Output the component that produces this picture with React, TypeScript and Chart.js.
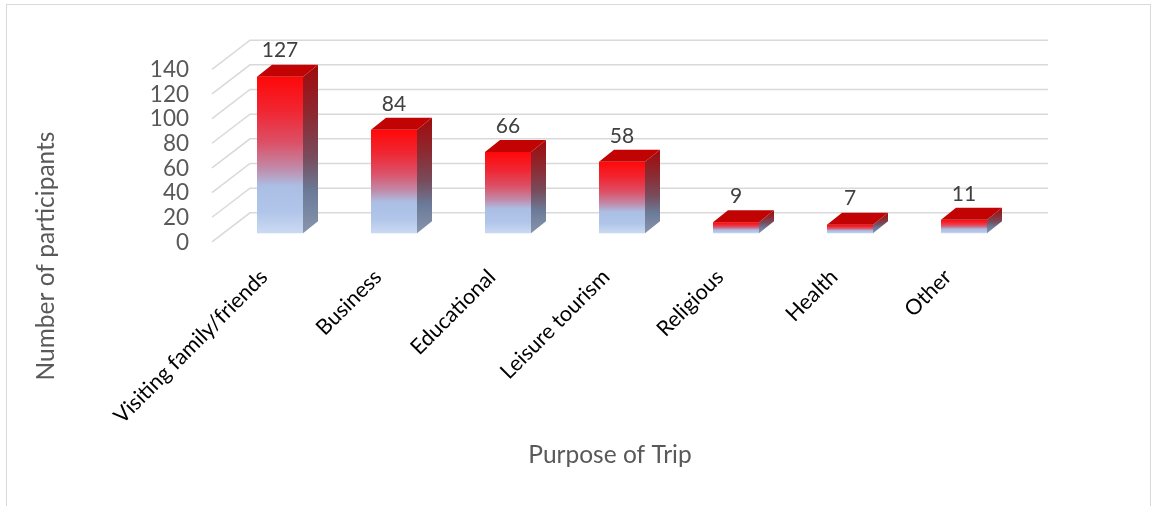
import React, { useEffect, useRef } from 'react';
import { Chart, registerables } from 'chart.js';

Chart.register(...registerables);

const categories = [
  'Visiting family/friends',
  'Business',
  'Educational',
  'Leisure tourism',
  'Religious',
  'Health',
  'Other',
];
const participants = [127, 84, 66, 58, 9, 7, 11];
const yTickValues = [0, 20, 40, 60, 80, 100, 120, 140];
const yTitle = 'Number of participants';
const xTitle = 'Purpose of Trip';

const FONT = 'Lato, "Open Sans", sans-serif';
const DEPTH_X = 15;
const DEPTH_Y = -12;

const frontStops: [number, string][] = [
  [0, '#ff0808'],
  [0.22, '#f02632'],
  [0.42, '#dc5066'],
  [0.58, '#c288a6'],
  [0.7, '#abbfe5'],
  [0.86, '#b0c5e9'],
  [1, '#cbdaf2'],
];
const sideStops: [number, string][] = [
  [0, '#a00a0c'],
  [0.3, '#8c2a32'],
  [0.55, '#784c5c'],
  [0.75, '#6b7a98'],
  [1, '#8795ac'],
];

const plugin3d = {
  id: 'bars3d',
  beforeDraw(chart: any) {
    const ctx = chart.ctx;
    ctx.save();
    ctx.fillStyle = '#ffffff';
    ctx.fillRect(0, 0, chart.width, chart.height);
    ctx.strokeStyle = '#d9d9d9';
    ctx.lineWidth = 1;
    ctx.strokeRect(6.5, 4.5, 1144, 540);
    ctx.restore();
  },
  beforeDatasetsDraw(chart: any) {
    const ctx = chart.ctx;
    const ys = chart.scales.y;
    const area = chart.chartArea;
    ctx.save();
    ctx.strokeStyle = '#d9d9d9';
    ctx.lineWidth = 1.5;
    for (const v of yTickValues) {
      const py = ys.getPixelForValue(v);
      ctx.beginPath();
      ctx.moveTo(area.left - 11, py + 8.6);
      ctx.lineTo(area.left + 27, py - 20.5);
      ctx.lineTo(area.right + 27, py - 20.5);
      ctx.stroke();
    }
    ctx.restore();
  },
  afterDatasetsDraw(chart: any) {
    const ctx = chart.ctx;
    const meta = chart.getDatasetMeta(0);
    ctx.save();
    meta.data.forEach((bar: any, i: number) => {
      const { x, y, base, width } = bar.getProps(['x', 'y', 'base', 'width'], true);
      const l = x - width / 2;
      const r = x + width / 2;
      const top = y;
      const bottom = base;
      const gf = ctx.createLinearGradient(0, top, 0, bottom);
      frontStops.forEach(([o, c]) => gf.addColorStop(o, c));
      ctx.fillStyle = gf;
      ctx.fillRect(l, top, r - l, bottom - top);
      const gs = ctx.createLinearGradient(0, top + DEPTH_Y, 0, bottom);
      sideStops.forEach(([o, c]) => gs.addColorStop(o, c));
      ctx.fillStyle = gs;
      ctx.beginPath();
      ctx.moveTo(r, top);
      ctx.lineTo(r + DEPTH_X, top + DEPTH_Y);
      ctx.lineTo(r + DEPTH_X, bottom + DEPTH_Y);
      ctx.lineTo(r, bottom);
      ctx.closePath();
      ctx.fill();
      ctx.fillStyle = '#c20303';
      ctx.beginPath();
      ctx.moveTo(l, top);
      ctx.lineTo(r, top);
      ctx.lineTo(r + DEPTH_X, top + DEPTH_Y);
      ctx.lineTo(l + DEPTH_X, top + DEPTH_Y);
      ctx.closePath();
      ctx.fill();
      ctx.fillStyle = '#404040';
      ctx.font = `21px ${FONT}`;
      ctx.textAlign = 'center';
      ctx.textBaseline = 'middle';
      ctx.fillText(String(participants[i]), x, top + DEPTH_Y - 14);
    });
    ctx.restore();
  },
  afterDraw(chart: any) {
    const ctx = chart.ctx;
    ctx.save();
    ctx.fillStyle = '#595959';
    ctx.font = `24.5px ${FONT}`;
    ctx.textAlign = 'center';
    ctx.textBaseline = 'alphabetic';
    ctx.fillText(xTitle, 610, 463);
    ctx.translate(54, 256);
    ctx.rotate(-Math.PI / 2);
    ctx.fillText(yTitle, 0, 0);
    ctx.restore();
  },
};

export default function App() {
  const canvasRef = useRef<HTMLCanvasElement | null>(null);

  useEffect(() => {
    if (!canvasRef.current) return;
    const chart = new Chart(canvasRef.current, {
      type: 'bar',
      data: {
        labels: categories,
        datasets: [
          {
            label: yTitle,
            data: participants,
            backgroundColor: 'rgba(0,0,0,0)',
            borderWidth: 0,
            barPercentage: 46 / 114,
            categoryPercentage: 1,
          },
        ],
      },
      options: {
        animation: false,
        responsive: true,
        maintainAspectRatio: false,
        layout: { padding: { left: 0, right: 133, top: 60.7, bottom: 0 } },
        plugins: {
          legend: { display: false },
          tooltip: { enabled: false },
        },
        scales: {
          x: {
            grid: { display: false, drawTicks: false },
            border: { display: false },
            ticks: {
              autoSkip: false,
              minRotation: 45,
              maxRotation: 45,
              padding: 31,
              labelOffset: -16,
              color: '#000000',
              font: { family: FONT, size: 21.5 },
            },
            afterFit: (s: any) => {
              s.height = 506 - 233.3;
            },
          },
          y: {
            min: 0,
            max: 140,
            grid: { display: false, drawTicks: false },
            border: { display: false },
            ticks: {
              autoSkip: false,
              stepSize: 20,
              padding: 34,
              labelOffset: 9,
              color: '#595959',
              font: { family: FONT, size: 22.5 },
            },
            afterFit: (s: any) => {
              s.width = 223;
            },
          },
        },
      },
      plugins: [plugin3d],
    });
    return () => chart.destroy();
  }, []);

  return (
    <div style={{ position: 'fixed', left: 0, top: 0, width: 1154, height: 506, background: '#fff' }}>
      <canvas ref={canvasRef} />
    </div>
  );
}
